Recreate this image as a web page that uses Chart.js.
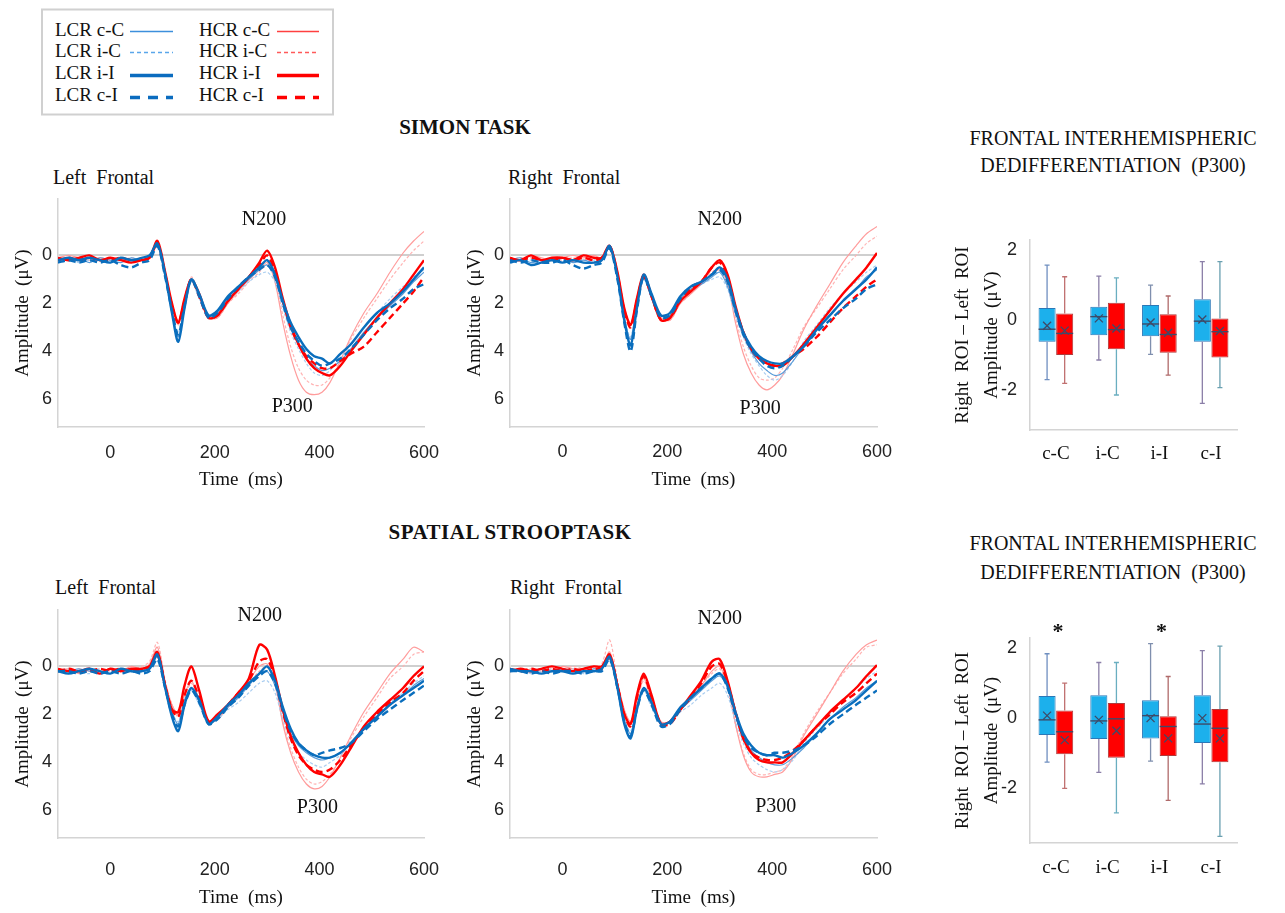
<!DOCTYPE html>
<html>
<head>
<meta charset="utf-8">
<script src="https://cdn.jsdelivr.net/npm/chart.js@4.4.1/dist/chart.umd.min.js"></script>
<style>
    body { margin: 0; background: #fff; }
    #page { position: relative; width: 1285px; height: 913px; overflow: hidden;
            font-family: 'Liberation Serif', 'Times New Roman', serif; color: #111; }
    .t { position: absolute; white-space: pre; line-height: 24px; }
    .c { text-align: center; }
    canvas { position: absolute; }
</style>
</head>
<body>
<div id="page">

    <svg width="340" height="120" style="position:absolute;left:0;top:0" font-family="Liberation Serif, serif" font-size="19" fill="#111">
        <rect x="42" y="9.5" width="291" height="105" fill="none" stroke="#d0d0d0" stroke-width="2"/>
        <text x="55" y="36">LCR c-C</text>
        <text x="55" y="57">LCR i-C</text>
        <text x="55" y="79">LCR i-I</text>
        <text x="55" y="101">LCR c-I</text>
        <text x="199" y="36">HCR c-C</text>
        <text x="199" y="57">HCR i-C</text>
        <text x="199" y="79">HCR i-I</text>
        <text x="199" y="101">HCR c-I</text>
        <line x1="130" y1="31.5" x2="173" y2="31.5" stroke="#3c8fdc" stroke-width="1.6"/>
        <line x1="130" y1="52.5" x2="173" y2="52.5" stroke="#5aa6ea" stroke-width="1.6" stroke-dasharray="4 3"/>
        <line x1="130" y1="75.5" x2="173" y2="75.5" stroke="#0b6cbf" stroke-width="3.5"/>
        <line x1="130" y1="97.5" x2="173" y2="97.5" stroke="#0b6cbf" stroke-width="3.5" stroke-dasharray="10 8"/>
        <line x1="277" y1="31.5" x2="319" y2="31.5" stroke="#ff4040" stroke-width="1.6"/>
        <line x1="277" y1="52.5" x2="319" y2="52.5" stroke="#ff5a5a" stroke-width="1.6" stroke-dasharray="4 3"/>
        <line x1="277" y1="75.5" x2="319" y2="75.5" stroke="#ff0000" stroke-width="3.5"/>
        <line x1="277" y1="97.5" x2="319" y2="97.5" stroke="#ff0000" stroke-width="3.5" stroke-dasharray="10 8"/>
    </svg>

    <div class="t c" style="left:0;width:930px;top:115px;font-size:21px;font-weight:bold">SIMON TASK</div>
    <div class="t c" style="left:0;width:1020px;top:520px;font-size:21px;font-weight:bold;letter-spacing:0.5px">SPATIAL STROOPTASK</div>

    <div class="t" style="left:53px;top:165px;font-size:20px">Left  Frontal</div>
    <div class="t" style="left:508px;top:165px;font-size:20px">Right  Frontal</div>
    <div class="t" style="left:55px;top:575px;font-size:20px">Left  Frontal</div>
    <div class="t" style="left:510px;top:575px;font-size:20px">Right  Frontal</div>

    <div class="t c" style="left:941px;width:344px;top:126px;font-size:20px">FRONTAL INTERHEMISPHERIC</div>
    <div class="t c" style="left:941px;width:344px;top:153px;font-size:20px">DEDIFFERENTIATION  (P300)</div>
    <div class="t c" style="left:941px;width:344px;top:531px;font-size:20px">FRONTAL INTERHEMISPHERIC</div>
    <div class="t c" style="left:941px;width:344px;top:560px;font-size:20px">DEDIFFERENTIATION  (P300)</div>

    <canvas id="simonLeft" width="440" height="300" style="left:0;top:195px"></canvas>
    <canvas id="simonRight" width="440" height="300" style="left:452px;top:195px"></canvas>
    <canvas id="stroopLeft" width="440" height="307" style="left:0;top:606px"></canvas>
    <canvas id="stroopRight" width="440" height="307" style="left:452px;top:606px"></canvas>
    <canvas id="simonBox" width="345" height="250" style="left:940px;top:228px"></canvas>
    <canvas id="stroopBox" width="345" height="270" style="left:940px;top:618px"></canvas>
</div>

<script>
const SERIF = "'Liberation Serif', 'Times New Roman', serif";
const SANS = "'Liberation Sans', Arial, sans-serif";

// ---- ERP waveforms (amplitude in µV, sampled at these times) ----
const timeMs = [-100, -80, -60, -40, -20, 0, 20, 40, 60, 75,
                90, 105, 118, 130, 142, 155, 170, 188, 205, 225,
                245, 265, 285, 300, 315, 330, 345, 360, 375, 390,
                405, 420, 440, 460, 485, 510, 535, 560, 580, 600];

const seriesNames = ['LCR c-C', 'LCR i-C', 'LCR i-I', 'LCR c-I', 'HCR c-C', 'HCR i-C', 'HCR i-I', 'HCR c-I'];

// Simon task, left frontal
const simonL_lcrCC = [0.1,0.2,0.1,0.3,0.1,0.2,0.3,0.1,0.2,0.0, -0.5,0.9,2.3,3.4,2.1,1.0,1.7,2.5,2.4,1.8, 1.4,1.0,0.6,0.4,0.9,2.0,3.0,3.7,4.3,4.6, 4.8,4.7,4.4,3.9,3.2,2.6,2.1,1.6,1.1,0.7];
const simonL_lcrIC = [0.2,0.1,0.3,0.2,0.2,0.1,0.2,0.3,0.1,0.1, -0.4,1.0,2.4,3.2,2.0,1.1,1.8,2.6,2.5,1.9, 1.5,1.1,0.8,0.7,1.1,2.2,3.2,3.9,4.5,4.9, 5.0,4.8,4.3,3.7,3.0,2.4,1.8,1.3,0.9,0.6];
const simonL_lcrII = [0.2,0.1,0.2,0.1,0.2,0.3,0.1,0.2,0.1,0.0, -0.5,0.8,2.4,3.6,2.2,1.0,1.6,2.5,2.3,1.7, 1.3,0.9,0.5,0.2,0.8,1.9,2.8,3.4,3.9,4.2, 4.3,4.5,4.1,3.7,3.0,2.4,2.0,1.5,1.0,0.5];
const simonL_lcrCI = [0.3,0.2,0.3,0.2,0.3,0.2,0.4,0.5,0.3,0.2, -0.4,0.9,2.3,3.3,2.1,1.0,1.7,2.6,2.4,1.8, 1.3,0.9,0.6,0.4,0.9,2.0,3.0,3.6,4.1,4.4, 4.6,4.5,4.3,3.9,3.3,2.7,2.2,1.8,1.4,1.2];
const simonL_hcrCC = [0.1,0.0,0.1,0.2,0.1,0.2,0.1,0.2,0.1,0.0, -0.5,0.8,2.0,2.9,1.9,1.0,1.7,2.6,2.6,2.0, 1.5,1.0,0.6,0.3,1.1,2.8,4.2,5.2,5.7,5.8, 5.7,5.3,4.4,3.4,2.4,1.6,0.7,-0.1,-0.6,-1.0];
const simonL_hcrIC = [0.2,0.1,0.2,0.1,0.2,0.1,0.2,0.1,0.2,0.1, -0.5,0.8,2.0,2.8,1.8,0.9,1.6,2.5,2.6,2.0, 1.6,1.1,0.7,0.4,1.0,2.5,3.8,4.7,5.2,5.4, 5.4,5.1,4.4,3.5,2.6,1.8,1.0,0.3,-0.2,-0.6];
const simonL_hcrII = [0.1,0.2,0.1,0.0,0.2,0.1,0.2,0.3,0.2,0.1, -0.6,0.7,2.0,2.8,1.8,1.0,1.6,2.6,2.5,1.9, 1.4,0.9,0.3,-0.2,0.5,1.8,2.9,3.7,4.3,4.7, 4.9,5.0,4.6,4.0,3.3,2.6,2.0,1.4,0.8,0.2];
const simonL_hcrCI = [0.2,0.1,0.2,0.1,0.2,0.2,0.1,0.2,0.2,0.1, -0.5,0.8,2.1,2.8,1.9,1.0,1.7,2.6,2.5,1.9, 1.4,0.9,0.4,0.0,0.7,1.9,3.0,3.7,4.2,4.5, 4.7,4.7,4.4,4.1,3.8,3.2,2.6,2.0,1.5,0.9];

// Simon task, right frontal
const simonR_lcrCC = [0.2,0.1,0.3,0.2,0.2,0.1,0.3,0.2,0.3,0.1, -0.3,0.9,2.6,3.5,2.0,0.9,1.7,2.5,2.5,1.8, 1.4,1.2,0.9,0.7,1.3,2.4,3.3,4.0,4.5,4.8, 5.0,4.9,4.4,3.8,3.1,2.5,1.9,1.4,0.9,0.6];
const simonR_lcrIC = [0.3,0.2,0.2,0.3,0.1,0.2,0.2,0.3,0.2,0.2, -0.3,1.0,2.6,3.4,2.1,1.0,1.8,2.6,2.6,1.9, 1.5,1.2,1.0,0.9,1.4,2.5,3.4,4.1,4.6,5.0, 5.2,5.0,4.4,3.6,2.9,2.2,1.6,1.1,0.7,0.4];
const simonR_lcrII = [0.3,0.2,0.4,0.3,0.2,0.3,0.2,0.3,0.3,0.2, -0.4,0.9,2.7,3.75,2.2,0.8,1.6,2.5,2.4,1.7, 1.3,1.1,0.8,0.5,1.0,2.2,3.2,3.8,4.2,4.4, 4.5,4.5,4.2,3.8,3.1,2.5,1.9,1.4,1.0,0.5];
const simonR_lcrCI = [0.2,0.3,0.2,0.3,0.3,0.2,0.4,0.55,0.4,0.3, -0.3,1.0,2.8,4.0,2.3,0.9,1.7,2.6,2.5,1.8, 1.3,1.1,0.8,0.6,1.1,2.3,3.3,3.9,4.3,4.6, 4.7,4.6,4.2,3.8,3.2,2.7,2.2,1.8,1.4,1.2];
const simonR_hcrCC = [0.1,0.2,0.0,0.1,0.2,0.1,0.0,0.1,0.0,0.1, -0.4,0.8,2.2,2.9,1.8,0.8,1.6,2.6,2.7,2.0, 1.6,1.2,0.8,0.6,1.2,2.8,4.1,4.9,5.4,5.6, 5.4,5.0,4.1,3.1,2.1,1.2,0.3,-0.4,-0.9,-1.2];
const simonR_hcrIC = [0.2,0.1,0.1,0.2,0.1,0.2,0.1,0.2,0.1,0.1, -0.4,0.8,2.2,2.8,1.8,0.8,1.6,2.6,2.7,2.0, 1.6,1.1,0.7,0.5,1.1,2.6,3.8,4.6,5.1,5.2, 5.1,4.7,3.9,3.0,2.2,1.4,0.6,0.0,-0.5,-0.8];
const simonR_hcrII = [0.1,0.2,0.0,0.2,0.1,0.1,0.2,0.0,0.1,0.1, -0.4,0.7,2.2,2.9,1.8,0.8,1.7,2.7,2.6,1.9, 1.5,1.1,0.5,0.2,0.8,2.1,3.2,3.9,4.3,4.5, 4.6,4.6,4.2,3.7,3.0,2.3,1.6,1.0,0.5,-0.1];
const simonR_hcrCI = [0.2,0.2,0.1,0.2,0.2,0.1,0.2,0.1,0.2,0.1, -0.4,0.8,2.3,3.0,1.9,0.9,1.7,2.7,2.6,1.9, 1.4,1.1,0.5,0.3,0.9,2.2,3.2,3.9,4.3,4.5, 4.6,4.5,4.2,3.9,3.4,2.8,2.2,1.7,1.3,1.0];

// Spatial Stroop task, left frontal
const stroopL_lcrCC = [0.1,0.2,0.1,0.2,0.3,0.1,0.2,0.1,0.2,0.1, -0.4,0.8,1.9,2.4,1.4,0.9,1.5,2.3,2.1,1.7, 1.3,0.8,0.3,0.2,0.8,1.9,2.8,3.3,3.6,3.8, 3.9,3.8,3.6,3.2,2.6,2.1,1.6,1.2,0.8,0.5];
const stroopL_lcrIC = [0.2,0.1,0.2,0.3,0.1,0.2,0.1,0.2,0.1,0.0, -0.4,0.8,1.9,2.3,1.5,1.0,1.6,2.3,2.2,1.8, 1.5,1.1,0.7,0.6,1.1,2.2,3.1,3.6,3.9,4.1, 4.2,4.0,3.7,3.2,2.6,2.0,1.5,1.1,0.7,0.4];
const stroopL_lcrII = [0.2,0.3,0.2,0.1,0.2,0.3,0.1,0.2,0.2,0.1, -0.5,0.9,2.1,2.7,1.6,0.9,1.4,2.4,2.1,1.6, 1.2,0.7,0.3,0.0,0.6,1.7,2.6,3.2,3.5,3.7, 3.8,3.8,3.6,3.2,2.6,2.1,1.6,1.2,0.9,0.6];
const stroopL_lcrCI = [0.2,0.2,0.3,0.2,0.3,0.2,0.3,0.2,0.3,0.2, -0.3,0.9,2.0,2.5,1.6,1.0,1.5,2.4,2.2,1.7, 1.3,0.8,0.4,0.2,0.7,1.8,2.7,3.2,3.5,3.7, 3.6,3.5,3.4,3.2,2.7,2.2,1.8,1.4,1.1,0.8];
const stroopL_hcrCC = [0.2,0.1,0.3,0.1,0.2,0.1,0.2,0.0,0.1,-0.1, -0.8,0.7,1.6,2.0,1.2,0.6,1.4,2.3,2.2,1.7, 1.2,0.6,0.0,-0.1,0.7,2.4,3.6,4.4,4.9,5.1, 5.0,4.6,3.8,2.9,1.9,1.1,0.3,-0.3,-0.8,-0.6];
const stroopL_hcrIC = [0.1,0.2,0.1,0.2,0.1,0.2,0.1,0.1,0.0,-0.2, -1.0,0.6,1.6,2.1,1.3,0.7,1.5,2.3,2.2,1.7, 1.2,0.7,0.2,0.0,0.8,2.3,3.4,4.2,4.7,4.9, 4.8,4.5,3.8,3.0,2.1,1.3,0.5,0.0,-0.5,-0.6];
const stroopL_hcrII = [0.1,0.2,0.2,0.1,0.3,0.1,0.2,0.1,0.1,0.0, -0.6,0.8,1.8,1.9,0.8,0.0,1.0,2.3,2.0,1.6, 1.1,0.5,-0.9,-0.7,0.4,1.8,2.9,3.6,4.1,4.4, 4.5,4.6,4.1,3.4,2.5,1.9,1.4,0.9,0.4,0.0];
const stroopL_hcrCI = [0.2,0.1,0.2,0.2,0.1,0.2,0.1,0.2,0.1,0.0, -0.5,0.8,1.8,2.1,1.2,0.6,1.3,2.3,2.1,1.6, 1.1,0.6,-0.2,-0.3,0.5,1.9,3.0,3.7,4.1,4.3, 4.4,4.3,3.9,3.3,2.6,2.0,1.5,1.1,0.6,0.2];

// Spatial Stroop task, right frontal
const stroopR_lcrCC = [0.1,0.2,0.2,0.1,0.2,0.1,0.2,0.2,0.1,0.1, -0.3,0.9,2.2,2.8,1.7,0.9,1.6,2.4,2.3,1.8, 1.4,1.0,0.6,0.4,0.9,2.0,2.9,3.5,3.8,4.0, 4.1,4.1,3.8,3.4,2.8,2.2,1.7,1.3,0.9,0.6];
const stroopR_lcrIC = [0.2,0.1,0.3,0.2,0.1,0.2,0.1,0.3,0.2,0.1, -0.3,1.0,2.2,2.7,1.7,1.0,1.7,2.4,2.4,1.9, 1.6,1.2,0.9,0.7,1.2,2.3,3.2,3.8,4.1,4.3, 4.4,4.3,3.9,3.2,2.6,2.0,1.4,0.9,0.5,0.2];
const stroopR_lcrII = [0.1,0.2,0.2,0.3,0.2,0.2,0.3,0.2,0.2,0.1, -0.4,0.9,2.4,3.0,1.8,0.9,1.5,2.4,2.3,1.7, 1.3,0.9,0.5,0.3,0.8,1.9,2.8,3.3,3.6,3.7, 3.7,3.8,3.6,3.3,2.8,2.2,1.8,1.4,1.0,0.6];
const stroopR_lcrCI = [0.2,0.2,0.3,0.2,0.3,0.2,0.2,0.3,0.2,0.2, -0.3,0.9,2.3,2.9,1.8,1.0,1.6,2.5,2.4,1.8, 1.3,0.9,0.5,0.3,0.9,2.0,2.9,3.4,3.6,3.7, 3.6,3.6,3.5,3.3,2.9,2.4,2.0,1.6,1.3,1.0];
const stroopR_hcrCC = [0.2,0.1,0.2,0.1,0.2,0.0,0.1,0.1,0.0,0.0, -0.6,0.7,1.8,2.3,1.4,0.5,1.4,2.3,2.3,1.8, 1.3,0.8,0.2,0.0,0.8,2.4,3.7,4.4,4.6,4.6, 4.5,4.4,3.8,2.9,2.0,1.1,0.2,-0.5,-0.9,-1.1];
const stroopR_hcrIC = [0.1,0.2,0.1,0.2,0.1,0.1,0.0,0.1,0.1,-0.1, -1.1,0.6,1.8,2.4,1.5,0.6,1.4,2.3,2.3,1.8, 1.3,0.8,0.3,0.1,0.9,2.4,3.6,4.3,4.5,4.5, 4.4,4.3,3.7,2.8,1.9,1.1,0.3,-0.3,-0.8,-0.9];
const stroopR_hcrII = [0.2,0.1,0.2,0.1,0.0,0.1,0.2,0.1,0.0,0.0, -0.5,0.8,2.0,2.4,1.2,0.3,1.2,2.4,2.3,1.8, 1.2,0.6,-0.2,-0.3,0.6,1.9,3.0,3.6,3.9,4.0, 4.0,4.0,3.6,3.1,2.5,1.9,1.4,0.9,0.4,-0.05];
const stroopR_hcrCI = [0.1,0.2,0.1,0.2,0.1,0.2,0.1,0.2,0.1,0.1, -0.4,0.8,2.0,2.5,1.3,0.4,1.3,2.4,2.4,1.8, 1.3,0.7,0.0,-0.1,0.7,1.9,3.0,3.6,3.8,3.9, 3.9,3.8,3.5,3.1,2.5,2.0,1.5,1.1,0.7,0.3];

// component labels: time (ms) and amplitude where the text sits
const simonLeftNotes = [{text: 'N200', t: 294, v: -1.48}, {text: 'P300', t: 348, v: 6.3}];
const simonRightNotes = [{text: 'N200', t: 300, v: -1.48}, {text: 'P300', t: 377, v: 6.37}];
const stroopLeftNotes = [{text: 'N200', t: 286, v: -2.1}, {text: 'P300', t: 396, v: 5.87}];
const stroopRightNotes = [{text: 'N200', t: 300, v: -1.97}, {text: 'P300', t: 407, v: 5.84}];

// ---- Dedifferentiation box plots (Right ROI - Left ROI, µV) ----
const boxCats = ['c-C', 'i-C', 'i-I', 'c-I'];

const simonLcrMin  = [-1.70, -1.14, -0.98, -2.38];
const simonLcrQ1   = [-0.62, -0.43, -0.46, -0.62];
const simonLcrMed  = [-0.26,  0.10, -0.11, -0.03];
const simonLcrMean = [-0.16,  0.05, -0.07,  0.02];
const simonLcrQ3   = [ 0.35,  0.38,  0.43,  0.60];
const simonLcrMax  = [ 1.57,  1.26,  1.00,  1.67];
const simonHcrMin  = [-1.81, -2.14, -1.57, -1.93];
const simonHcrQ1   = [-1.00, -0.83, -0.93, -1.07];
const simonHcrMed  = [-0.38, -0.27, -0.41, -0.33];
const simonHcrMean = [-0.30, -0.24, -0.36, -0.31];
const simonHcrQ3   = [ 0.19,  0.50,  0.17,  0.05];
const simonHcrMax  = [ 1.24,  1.21,  0.69,  1.67];

const stroopLcrMin  = [-1.26, -1.55, -1.23, -1.88];
const stroopLcrQ1   = [-0.48, -0.60, -0.58, -0.71];
const stroopLcrMed  = [-0.05, -0.08,  0.07, -0.17];
const stroopLcrMean = [ 0.07, -0.05,  0.00,  0.00];
const stroopLcrQ3   = [ 0.63,  0.65,  0.51,  0.65];
const stroopLcrMax  = [ 1.84,  1.59,  2.13,  1.93];
const stroopHcrMin  = [-2.01, -2.71, -2.35, -3.38];
const stroopHcrQ1   = [-1.03, -1.13, -1.08, -1.26];
const stroopHcrMed  = [-0.39, -0.02, -0.24, -0.29];
const stroopHcrMean = [-0.63, -0.36, -0.58, -0.58];
const stroopHcrQ3   = [ 0.22,  0.43,  0.05,  0.26];
const stroopHcrMax  = [ 1.00,  1.59,  1.19,  2.06];

const stroopStars = ['*', '', '*', ''];


/* ==============================
   STYLES
================================= */

const lineColors = ['#5a9bd8', '#a9cdf0', '#0a6ebd', '#0a6ebd', '#ff9c9c', '#ffb3b3', '#ff0000', '#ff0000'];
const lineWidths = [1.2, 1.2, 2.4, 2.4, 1.2, 1.2, 2.4, 2.4];
const lineDashes = [[], [3, 2], [], [7, 4], [], [3, 2], [], [7, 4]];
const lineOrder = [1, 1, 0, 0, 1, 1, 0, 0];

const whiskerLcr = ['#6f8fc0', '#8b7fa8', '#7f8fae', '#8b7fa8'];
const whiskerHcr = ['#c07070', '#6aaec0', '#b06a6a', '#6aa0b0'];

const AXIS_GREY = '#d4d4d4';

// keep the chart area exactly where the axes were sized, no label overhang padding
function noPadX(width, height) {
    return s => {
        if (width !== undefined) s.width = width;
        if (height !== undefined) s.height = height;
        s.paddingLeft = 0; s.paddingRight = 0; s.paddingTop = 0; s.paddingBottom = 0;
    };
}


/* ==============================
   PLUGINS
================================= */

const erpNotes = {
    id: 'erpNotes',
    afterDatasetsDraw(chart, args, opts) {
        const { ctx, scales: { x, y } } = chart;
        ctx.save();
        ctx.font = '20px ' + SERIF;
        ctx.fillStyle = '#111';
        ctx.textAlign = 'center';
        ctx.textBaseline = 'middle';
        (opts.items || []).forEach(n => {
            ctx.fillText(n.text, x.getPixelForValue(n.t), y.getPixelForValue(n.v));
        });
        ctx.restore();
    }
};

const boxExtras = {
    id: 'boxExtras',
    afterDatasetsDraw(chart, args, opts) {
        const { ctx, chartArea } = chart;
        const y = chart.scales.y;
        const x = chart.scales.x;

        chart.data.datasets.forEach((ds, di) => {
            chart.getDatasetMeta(di).data.forEach((bar, i) => {
                const { x: cx, width } = bar.getProps(['x', 'width'], true);
                const yQ1 = y.getPixelForValue(ds.data[i][0]);
                const yQ3 = y.getPixelForValue(ds.data[i][1]);
                const yLo = y.getPixelForValue(ds.lo[i]);
                const yHi = y.getPixelForValue(ds.hi[i]);
                const yMed = y.getPixelForValue(ds.med[i]);
                const yMean = y.getPixelForValue(ds.mean[i]);

                ctx.save();
                // whiskers
                ctx.strokeStyle = ds.whisker[i];
                ctx.lineWidth = 1.3;
                ctx.beginPath();
                ctx.moveTo(cx, Math.min(yQ1, yQ3)); ctx.lineTo(cx, yHi);
                ctx.moveTo(cx, Math.max(yQ1, yQ3)); ctx.lineTo(cx, yLo);
                ctx.moveTo(cx - 2.5, yHi); ctx.lineTo(cx + 2.5, yHi);
                ctx.moveTo(cx - 2.5, yLo); ctx.lineTo(cx + 2.5, yLo);
                ctx.stroke();

                // median
                ctx.strokeStyle = '#3e4a68';
                ctx.lineWidth = 1.4;
                ctx.beginPath();
                ctx.moveTo(cx - width / 2, yMed); ctx.lineTo(cx + width / 2, yMed);
                ctx.stroke();

                // mean marker
                const m = 4;
                ctx.lineWidth = 1.3;
                ctx.beginPath();
                ctx.moveTo(cx - m, yMean - m); ctx.lineTo(cx + m, yMean + m);
                ctx.moveTo(cx - m, yMean + m); ctx.lineTo(cx + m, yMean - m);
                ctx.stroke();
                ctx.restore();
            });
        });

        const stars = opts.stars || [];
        ctx.save();
        ctx.font = 'bold 22px ' + SERIF;
        ctx.fillStyle = '#111';
        ctx.textAlign = 'center';
        ctx.textBaseline = 'middle';
        stars.forEach((s, i) => {
            if (s) ctx.fillText(s, x.getPixelForValue(i) + 2, chartArea.top - 6);
        });
        ctx.restore();
    }
};


/* ==============================
   CHART BUILDERS
================================= */

function makeErp(id, series, notes, cfg) {
    const canvas = document.getElementById(id);

    const datasets = series.map((vals, i) => ({
        label: seriesNames[i],
        data: timeMs.map((t, k) => ({ x: t, y: vals[k] })),
        borderColor: lineColors[i],
        borderWidth: lineWidths[i],
        borderDash: lineDashes[i],
        pointRadius: 0,
        tension: 0.3,
        fill: false,
        order: lineOrder[i]
    }));

    new Chart(canvas, {
        type: 'line',
        data: { datasets },
        options: {
            responsive: false,
            animation: false,
            layout: { padding: { top: 4, right: cfg.right, left: 0, bottom: 0 } },
            plugins: {
                legend: { display: false },
                tooltip: { enabled: false },
                erpNotes: { items: notes }
            },
            scales: {
                x: {
                    type: 'linear',
                    min: -100,
                    max: 600,
                    afterFit: noPadX(undefined, cfg.xHeight),
                    grid: { display: false },
                    border: { display: true, color: AXIS_GREY, width: 1.5 },
                    ticks: {
                        stepSize: 100,
                        autoSkip: false,
                        maxRotation: 0,
                        padding: cfg.tickPad,
                        color: '#222',
                        font: { family: SANS, size: 18 },
                        callback: v => (v >= 0 && v % 200 === 0) ? String(v) : ''
                    },
                    title: {
                        display: true,
                        text: 'Time  (ms)',
                        color: '#111',
                        font: { family: SERIF, size: 19 },
                        padding: { top: 0, bottom: 4 }
                    }
                },
                y: {
                    reverse: true,
                    min: -2.35,
                    max: 7.15,
                    afterFit: noPadX(58, undefined),
                    grid: {
                        drawTicks: false,
                        lineWidth: 2,
                        color: c => (c.tick && c.tick.value === 0) ? '#cfcfcf' : 'rgba(0,0,0,0)'
                    },
                    border: { display: true, color: AXIS_GREY, width: 1.5 },
                    ticks: {
                        stepSize: 2,
                        includeBounds: false,
                        padding: 6,
                        color: '#222',
                        font: { family: SANS, size: 18 },
                        callback: v => ([0, 2, 4, 6].includes(v) ? String(v) : '')
                    },
                    title: {
                        display: true,
                        text: 'Amplitude  (\u03bcV)',
                        color: '#111',
                        font: { family: SERIF, size: 19 },
                        padding: { top: 12, bottom: 0 }
                    }
                }
            }
        },
        plugins: [erpNotes]
    });
}

function makeBox(id, d, cfg) {
    const canvas = document.getElementById(id);

    new Chart(canvas, {
        type: 'bar',
        data: {
            labels: boxCats,
            datasets: [
                {
                    label: 'LCR',
                    data: d.lcrQ1.map((q, i) => [q, d.lcrQ3[i]]),
                    lo: d.lcrMin, hi: d.lcrMax, med: d.lcrMed, mean: d.lcrMean,
                    whisker: whiskerLcr,
                    backgroundColor: '#1cb0ec',
                    borderColor: '#2a78b8',
                    borderWidth: 1,
                    borderSkipped: false
                },
                {
                    label: 'HCR',
                    data: d.hcrQ1.map((q, i) => [q, d.hcrQ3[i]]),
                    lo: d.hcrMin, hi: d.hcrMax, med: d.hcrMed, mean: d.hcrMean,
                    whisker: whiskerHcr,
                    backgroundColor: '#ff0000',
                    borderColor: '#b03a3a',
                    borderWidth: 1,
                    borderSkipped: false
                }
            ]
        },
        options: {
            responsive: false,
            animation: false,
            categoryPercentage: 0.68,
            barPercentage: 0.97,
            layout: { padding: { top: cfg.top, right: 48, left: 0, bottom: 0 } },
            plugins: {
                legend: { display: false },
                tooltip: { enabled: false },
                boxExtras: { stars: cfg.stars }
            },
            scales: {
                x: {
                    afterFit: noPadX(undefined, cfg.xHeight),
                    grid: { display: false },
                    border: { display: true, color: AXIS_GREY, width: 1.5 },
                    ticks: {
                        padding: cfg.tickPad,
                        color: '#111',
                        font: { family: SERIF, size: 19 }
                    }
                },
                y: {
                    min: cfg.min,
                    max: 2.29,
                    afterFit: noPadX(90, undefined),
                    grid: { display: false },
                    border: { display: true, color: AXIS_GREY, width: 1.5 },
                    ticks: {
                        stepSize: 2,
                        includeBounds: false,
                        padding: 5,
                        color: '#222',
                        font: { family: SANS, size: 18 },
                        callback: v => ([-2, 0, 2].includes(v) ? String(v) : '')
                    },
                    title: {
                        display: true,
                        text: ['Right  ROI \u2013 Left  ROI', 'Amplitude  (\u03bcV)'],
                        color: '#111',
                        font: { family: SERIF, size: 19, lineHeight: 1.55 },
                        padding: { top: 8, bottom: 0 }
                    }
                }
            }
        },
        plugins: [boxExtras]
    });
}


/* ==============================
   DRAW
================================= */

makeErp('simonLeft',
    [simonL_lcrCC, simonL_lcrIC, simonL_lcrII, simonL_lcrCI, simonL_hcrCC, simonL_hcrIC, simonL_hcrII, simonL_hcrCI],
    simonLeftNotes, { right: 16, xHeight: 68, tickPad: 7 });

makeErp('simonRight',
    [simonR_lcrCC, simonR_lcrIC, simonR_lcrII, simonR_lcrCI, simonR_hcrCC, simonR_hcrIC, simonR_hcrII, simonR_hcrCI],
    simonRightNotes, { right: 15, xHeight: 68, tickPad: 6 });

makeErp('stroopLeft',
    [stroopL_lcrCC, stroopL_lcrIC, stroopL_lcrII, stroopL_lcrCI, stroopL_hcrCC, stroopL_hcrIC, stroopL_hcrII, stroopL_hcrCI],
    stroopLeftNotes, { right: 16, xHeight: 75, tickPad: 13 });

makeErp('stroopRight',
    [stroopR_lcrCC, stroopR_lcrIC, stroopR_lcrII, stroopR_lcrCI, stroopR_hcrCC, stroopR_hcrIC, stroopR_hcrII, stroopR_hcrCI],
    stroopRightNotes, { right: 15, xHeight: 75, tickPad: 13 });

makeBox('simonBox', {
    lcrMin: simonLcrMin, lcrQ1: simonLcrQ1, lcrMed: simonLcrMed, lcrMean: simonLcrMean, lcrQ3: simonLcrQ3, lcrMax: simonLcrMax,
    hcrMin: simonHcrMin, hcrQ1: simonHcrQ1, hcrMed: simonHcrMed, hcrMean: simonHcrMean, hcrQ3: simonHcrQ3, hcrMax: simonHcrMax
}, { min: -3.14, top: 12, xHeight: 48, tickPad: 5, stars: [] });

makeBox('stroopBox', {
    lcrMin: stroopLcrMin, lcrQ1: stroopLcrQ1, lcrMed: stroopLcrMed, lcrMean: stroopLcrMean, lcrQ3: stroopLcrQ3, lcrMax: stroopLcrMax,
    hcrMin: stroopHcrMin, hcrQ1: stroopHcrQ1, hcrMed: stroopHcrMed, hcrMean: stroopHcrMean, hcrQ3: stroopHcrQ3, hcrMax: stroopHcrMax
}, { min: -3.57, top: 20, xHeight: 45, tickPad: 6, stars: stroopStars });
</script>
</body>
</html>
